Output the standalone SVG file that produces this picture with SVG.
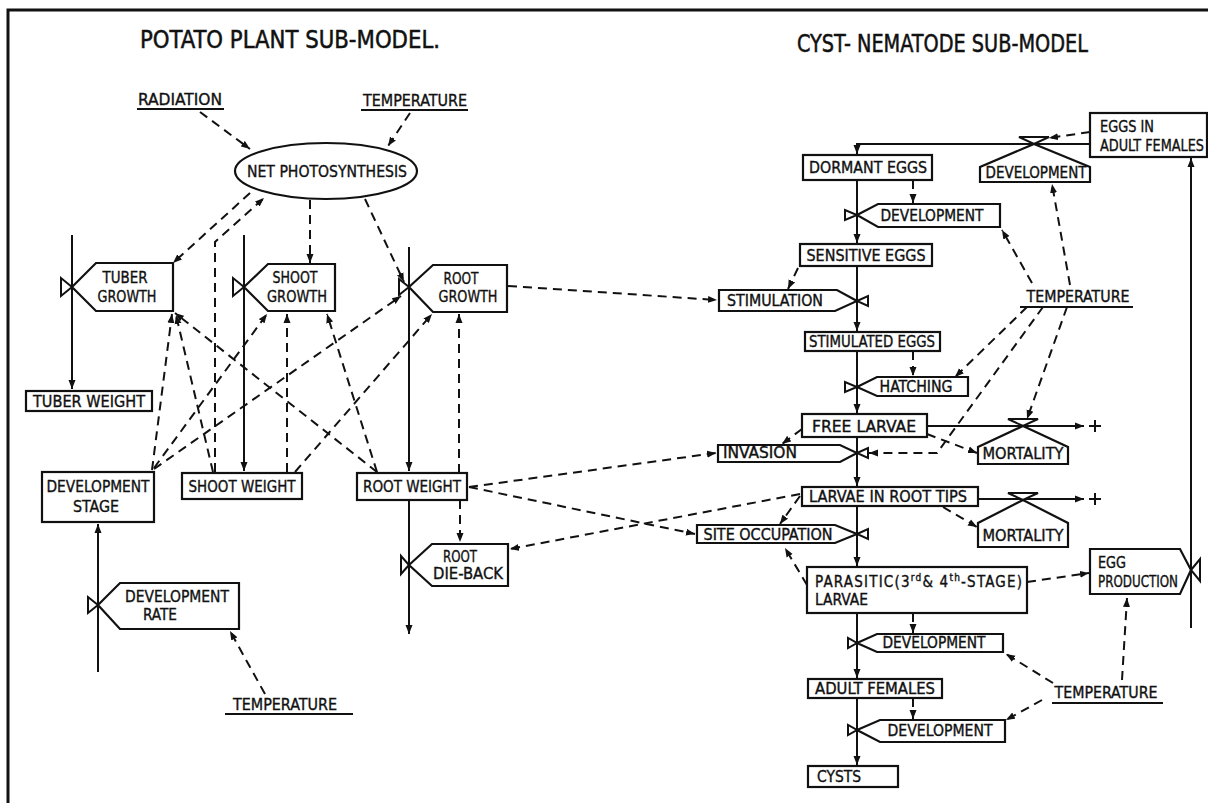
<svg xmlns="http://www.w3.org/2000/svg" width="1208" height="803" viewBox="0 0 1208 803">
  <defs>
    <marker id="ah" markerUnits="userSpaceOnUse" markerWidth="10" markerHeight="8" refX="9" refY="4" orient="auto">
      <path d="M0,0.5 L9,4 L0,7.5 z" fill="#111"/>
    </marker>
    <style>
      .frame { fill: none; stroke: #111; stroke-width: 3; }
      .box { fill: #fff; stroke: #111; stroke-width: 2.2; stroke-linejoin: miter; }
      .valve { fill: #fff; stroke: #111; stroke-width: 2; stroke-linejoin: miter; }
      .flow { fill: none; stroke: #111; stroke-width: 2; }
      .info { fill: none; stroke: #111; stroke-width: 2; stroke-dasharray: 9 6; }
      .ul { fill: none; stroke: #111; stroke-width: 2; }
      text { font-family: "DejaVu Sans Condensed", "DejaVu Sans", "Liberation Sans", sans-serif; fill: #111; stroke: #111; stroke-width: 0.35; }
      .t16 { font-size: 16px; }
      .t15 { font-size: 15px; }
      .title { font-size: 24px; stroke-width: 0.5; }
      .sup { font-size: 10px; }
    </style>
  </defs>

  <rect width="1208" height="803" fill="#fff"/>
  <path class="frame" d="M8,803 V10 H1208"/>

  <!-- headings -->
  <text class="title" x="140" y="48" textLength="300" lengthAdjust="spacingAndGlyphs">POTATO PLANT SUB-MODEL.</text>
  <text class="title" x="797" y="52" textLength="291" lengthAdjust="spacingAndGlyphs">CYST- NEMATODE SUB-MODEL</text>

  <!-- ============ flows and information links ============ -->
  <g id="connectors">
    <!-- potato: material flows -->
    <path class="flow" d="M72,235 V389" marker-end="url(#ah)"/>
    <path class="flow" d="M244,235 V471" marker-end="url(#ah)"/>
    <path class="flow" d="M409,247 V471" marker-end="url(#ah)"/>
    <path class="flow" d="M409,500 V634" marker-end="url(#ah)"/>
    <path class="flow" d="M98,672 V524" marker-end="url(#ah)"/>

    <!-- potato: information links -->
    <path class="info" d="M200,112 L250,149" marker-end="url(#ah)"/>
    <path class="info" d="M410,113 L388,146" marker-end="url(#ah)"/>
    <path class="info" d="M250,193 L173,263" marker-end="url(#ah)"/>
    <path class="info" d="M215,472 V242 L264,198" marker-end="url(#ah)"/>
    <path class="info" d="M310,200 V263" marker-end="url(#ah)"/>
    <path class="info" d="M365,199 L404,282" marker-end="url(#ah)"/>
    <path class="info" d="M152,470 L172,314" marker-end="url(#ah)"/>
    <path class="info" d="M213,472 L176,315" marker-end="url(#ah)"/>
    <path class="info" d="M377,472 L175,313" marker-end="url(#ah)"/>
    <path class="info" d="M154,468 L267,314" marker-end="url(#ah)"/>
    <path class="info" d="M377,472 L327,314" marker-end="url(#ah)"/>
    <path class="info" d="M287,472 V314" marker-end="url(#ah)"/>
    <path class="info" d="M295,472 L432,314" marker-end="url(#ah)"/>
    <path class="info" d="M154,469 L401,296" marker-end="url(#ah)"/>
    <path class="info" d="M459,473 V314" marker-end="url(#ah)"/>
    <path class="info" d="M460,500 V542" marker-end="url(#ah)"/>
    <path class="info" d="M265,694 L230,631" marker-end="url(#ah)"/>

    <!-- links between the two sub-models -->
    <path class="info" d="M508,286 L717,300" marker-end="url(#ah)"/>
    <path class="info" d="M469,487 L716,453" marker-end="url(#ah)"/>
    <path class="info" d="M469,487 L695,534" marker-end="url(#ah)"/>
    <path class="info" d="M800,494 L510,549" marker-end="url(#ah)"/>

    <!-- nematode: material flows -->
    <path class="flow" d="M1090,144 H857 V154" marker-end="url(#ah)"/>
    <path class="flow" d="M857,180 V243" marker-end="url(#ah)"/>
    <path class="flow" d="M857,266 V331" marker-end="url(#ah)"/>
    <path class="flow" d="M857,351 V413" marker-end="url(#ah)"/>
    <path class="flow" d="M857,437 V486" marker-end="url(#ah)"/>
    <path class="flow" d="M857,506 V566" marker-end="url(#ah)"/>
    <path class="flow" d="M857,613 V678" marker-end="url(#ah)"/>
    <path class="flow" d="M857,698 V765" marker-end="url(#ah)"/>
    <path class="flow" d="M927,426 H1084" marker-end="url(#ah)"/>
    <path class="flow" d="M978,499 H1084" marker-end="url(#ah)"/>
    <path class="flow" d="M1191,628 V158" marker-end="url(#ah)"/>
    <path class="flow" d="M1089,426 H1101 M1095,420 V432"/>
    <path class="flow" d="M1089,499 H1101 M1095,493 V505"/>

    <!-- nematode: information links -->
    <path class="info" d="M1090,132 L1049,138" marker-end="url(#ah)"/>
    <path class="info" d="M913,180 V203" marker-end="url(#ah)"/>
    <path class="info" d="M1070,285 L1052,184" marker-end="url(#ah)"/>
    <path class="info" d="M1032,283 L1002,230" marker-end="url(#ah)"/>
    <path class="info" d="M798,268 L788,289" marker-end="url(#ah)"/>
    <path class="info" d="M913,351 V376" marker-end="url(#ah)"/>
    <path class="info" d="M1027,307 L955,377" marker-end="url(#ah)"/>
    <path class="info" d="M1043,307 L937,453 H869" marker-end="url(#ah)"/>
    <path class="info" d="M1067,307 L1027,419" marker-end="url(#ah)"/>
    <path class="info" d="M802,429 L782,444" marker-end="url(#ah)"/>
    <path class="info" d="M927,434 L977,453" marker-end="url(#ah)"/>
    <path class="info" d="M800,496 L780,524" marker-end="url(#ah)"/>
    <path class="info" d="M943,507 L977,527" marker-end="url(#ah)"/>
    <path class="info" d="M807,585 L785,548" marker-end="url(#ah)"/>
    <path class="info" d="M1027,582 L1089,573" marker-end="url(#ah)"/>
    <path class="info" d="M913,613 V633" marker-end="url(#ah)"/>
    <path class="info" d="M1053,683 L1006,654" marker-end="url(#ah)"/>
    <path class="info" d="M913,698 V719" marker-end="url(#ah)"/>
    <path class="info" d="M1042,700 L1006,720" marker-end="url(#ah)"/>
    <path class="info" d="M1122,680 L1127,598" marker-end="url(#ah)"/>
  </g>

  <!-- ============ potato plant sub-model ============ -->
  <g id="radiation">
    <text class="t16" x="180" y="105" text-anchor="middle" textLength="84" lengthAdjust="spacingAndGlyphs">RADIATION</text>
    <path class="ul" d="M137,109 H224"/>
  </g>
  <g id="temperature-top">
    <text class="t16" x="415" y="106" text-anchor="middle" textLength="104" lengthAdjust="spacingAndGlyphs">TEMPERATURE</text>
    <path class="ul" d="M361,110 H468"/>
  </g>
  <g id="net-photosynthesis">
    <ellipse class="box" cx="326" cy="171" rx="91" ry="28"/>
    <text class="t16" x="327" y="177" text-anchor="middle" textLength="160" lengthAdjust="spacingAndGlyphs">NET PHOTOSYNTHESIS</text>
  </g>

  <g id="tuber-growth">
    <polygon class="valve" points="61,278 61,296 72,287"/>
    <polygon class="box" points="72,287 96,263 173,263 173,311 96,311"/>
    <text class="t16" x="125" y="283" text-anchor="middle" textLength="45" lengthAdjust="spacingAndGlyphs">TUBER</text>
    <text class="t16" x="127" y="302" text-anchor="middle" textLength="59" lengthAdjust="spacingAndGlyphs">GROWTH</text>
  </g>
  <g id="shoot-growth">
    <polygon class="valve" points="233,278 233,296 244,287"/>
    <polygon class="box" points="244,287 268,264 335,264 335,311 268,311"/>
    <text class="t16" x="295" y="283" text-anchor="middle" textLength="45" lengthAdjust="spacingAndGlyphs">SHOOT</text>
    <text class="t16" x="297" y="302" text-anchor="middle" textLength="60" lengthAdjust="spacingAndGlyphs">GROWTH</text>
  </g>
  <g id="root-growth">
    <polygon class="valve" points="399,279 399,295 409,287"/>
    <polygon class="box" points="409,287 433,265 507,265 507,312 433,312"/>
    <text class="t16" x="461" y="284" text-anchor="middle" textLength="35" lengthAdjust="spacingAndGlyphs">ROOT</text>
    <text class="t16" x="468" y="302" text-anchor="middle" textLength="59" lengthAdjust="spacingAndGlyphs">GROWTH</text>
  </g>

  <g id="tuber-weight">
    <rect class="box" x="26" y="391" width="126" height="20"/>
    <text class="t16" x="89" y="407" text-anchor="middle" textLength="112" lengthAdjust="spacingAndGlyphs">TUBER WEIGHT</text>
  </g>
  <g id="development-stage">
    <rect class="box" x="42" y="472" width="112" height="50"/>
    <text class="t16" x="98" y="492" text-anchor="middle" textLength="103" lengthAdjust="spacingAndGlyphs">DEVELOPMENT</text>
    <text class="t16" x="96" y="512" text-anchor="middle" textLength="46" lengthAdjust="spacingAndGlyphs">STAGE</text>
  </g>
  <g id="shoot-weight">
    <rect class="box" x="182" y="473" width="120" height="26"/>
    <text class="t16" x="242" y="492" text-anchor="middle" textLength="107" lengthAdjust="spacingAndGlyphs">SHOOT WEIGHT</text>
  </g>
  <g id="root-weight">
    <rect class="box" x="357" y="473" width="110" height="27"/>
    <text class="t16" x="412" y="492" text-anchor="middle" textLength="98" lengthAdjust="spacingAndGlyphs">ROOT WEIGHT</text>
  </g>

  <g id="root-die-back">
    <polygon class="valve" points="401,556 401,574 409,565"/>
    <polygon class="box" points="409,565 432,544 508,544 508,586 432,586"/>
    <text class="t16" x="460" y="562" text-anchor="middle" textLength="34" lengthAdjust="spacingAndGlyphs">ROOT</text>
    <text class="t16" x="468" y="579" text-anchor="middle" textLength="70" lengthAdjust="spacingAndGlyphs">DIE-BACK</text>
  </g>

  <g id="development-rate">
    <polygon class="valve" points="88,597 88,613 98,605"/>
    <polygon class="box" points="98,605 120,583 239,583 239,629 120,629"/>
    <text class="t16" x="177" y="602" text-anchor="middle" textLength="104" lengthAdjust="spacingAndGlyphs">DEVELOPMENT</text>
    <text class="t16" x="160" y="620" text-anchor="middle" textLength="34" lengthAdjust="spacingAndGlyphs">RATE</text>
  </g>
  <g id="temperature-left">
    <text class="t16" x="285" y="710" text-anchor="middle" textLength="104" lengthAdjust="spacingAndGlyphs">TEMPERATURE</text>
    <path class="ul" d="M225,714 H353"/>
  </g>

  <!-- ============ cyst-nematode sub-model ============ -->
  <g id="eggs-in-adult-females">
    <rect class="box" x="1090" y="113" width="117" height="44"/>
    <text class="t15" x="1100" y="132" textLength="54" lengthAdjust="spacingAndGlyphs">EGGS IN</text>
    <text class="t15" x="1100" y="151" textLength="104" lengthAdjust="spacingAndGlyphs">ADULT FEMALES</text>
  </g>
  <g id="development-eggs-in-females">
    <polygon class="valve" points="1019,137 1049,137 1034,144"/>
    <polygon class="box" points="1034,144 1090,167 1090,182 980,182 980,167"/>
    <text class="t15" x="1036" y="178" text-anchor="middle" textLength="101" lengthAdjust="spacingAndGlyphs">DEVELOPMENT</text>
  </g>

  <g id="dormant-eggs">
    <rect class="box" x="803" y="155" width="129" height="25"/>
    <text class="t15" x="868" y="173" text-anchor="middle" textLength="118" lengthAdjust="spacingAndGlyphs">DORMANT EGGS</text>
  </g>
  <g id="development-dormant">
    <polygon class="valve" points="845,210 845,220 857,215"/>
    <polygon class="box" points="857,215 878,204 1000,204 1000,227 878,227"/>
    <text class="t15" x="932" y="221" text-anchor="middle" textLength="103" lengthAdjust="spacingAndGlyphs">DEVELOPMENT</text>
  </g>

  <g id="sensitive-eggs">
    <rect class="box" x="800" y="244" width="132" height="22"/>
    <text class="t15" x="866" y="261" text-anchor="middle" textLength="119" lengthAdjust="spacingAndGlyphs">SENSITIVE EGGS</text>
  </g>
  <g id="stimulation">
    <polygon class="valve" points="857,301 868,296 868,306"/>
    <polygon class="box" points="719,290 837,290 857,301 835,311 719,311"/>
    <text class="t15" x="775" y="306" text-anchor="middle" textLength="96" lengthAdjust="spacingAndGlyphs">STIMULATION</text>
  </g>

  <g id="stimulated-eggs">
    <rect class="box" x="805" y="332" width="135" height="19"/>
    <text class="t15" x="872" y="347" text-anchor="middle" textLength="126" lengthAdjust="spacingAndGlyphs">STIMULATED EGGS</text>
  </g>
  <g id="hatching">
    <polygon class="valve" points="845,382 845,392 857,387"/>
    <polygon class="box" points="857,387 877,377 968,377 968,396 877,396"/>
    <text class="t15" x="916" y="392" text-anchor="middle" textLength="73" lengthAdjust="spacingAndGlyphs">HATCHING</text>
  </g>

  <g id="temperature-mid">
    <text class="t15" x="1078" y="302" text-anchor="middle" textLength="103" lengthAdjust="spacingAndGlyphs">TEMPERATURE</text>
    <path class="ul" d="M1020,307 H1133"/>
  </g>

  <g id="free-larvae">
    <rect class="box" x="802" y="414" width="125" height="23"/>
    <text class="t15" x="864" y="432" text-anchor="middle" textLength="104" lengthAdjust="spacingAndGlyphs">FREE  LARVAE</text>
  </g>
  <g id="mortality-free-larvae">
    <polygon class="valve" points="1008,419 1038,419 1023,426"/>
    <polygon class="box" points="1023,426 1068,447 1068,464 978,464 978,447"/>
    <text class="t15" x="1023" y="459" text-anchor="middle" textLength="81" lengthAdjust="spacingAndGlyphs">MORTALITY</text>
  </g>
  <g id="invasion">
    <polygon class="valve" points="857,453 868,448 868,458"/>
    <polygon class="box" points="718,445 840,445 857,453 840,462 718,462"/>
    <text class="t15" x="760" y="458" text-anchor="middle" textLength="74" lengthAdjust="spacingAndGlyphs">INVASION</text>
  </g>

  <g id="larvae-in-root-tips">
    <rect class="box" x="802" y="487" width="176" height="19"/>
    <text class="t15" x="888" y="502" text-anchor="middle" textLength="158" lengthAdjust="spacingAndGlyphs">LARVAE IN ROOT  TIPS</text>
  </g>
  <g id="mortality-root-tips">
    <polygon class="valve" points="1008,493 1038,493 1023,500"/>
    <polygon class="box" points="1023,500 1068,523 1068,547 978,547 978,523"/>
    <text class="t15" x="1023" y="541" text-anchor="middle" textLength="81" lengthAdjust="spacingAndGlyphs">MORTALITY</text>
  </g>
  <g id="site-occupation">
    <polygon class="valve" points="857,534 868,529 868,539"/>
    <polygon class="box" points="697,525 835,525 857,534 835,543 697,543"/>
    <text class="t15" x="768" y="540" text-anchor="middle" textLength="129" lengthAdjust="spacingAndGlyphs">SITE OCCUPATION</text>
  </g>

  <g id="parasitic-larvae">
    <rect class="box" x="807" y="567" width="220" height="46"/>
    <text class="t15" x="815" y="587" textLength="207" lengthAdjust="spacing">PARASITIC(3<tspan class="sup" dy="-6">rd</tspan><tspan dy="6">&amp; 4</tspan><tspan class="sup" dy="-6">th</tspan><tspan dy="6">-STAGE)</tspan></text>
    <text class="t15" x="815" y="605" textLength="53" lengthAdjust="spacingAndGlyphs">LARVAE</text>
  </g>
  <g id="egg-production">
    <polygon class="valve" points="1191,570 1200,559 1200,581"/>
    <polygon class="box" points="1090,549 1180,549 1191,570 1180,594 1090,594"/>
    <text class="t15" x="1098" y="568" textLength="28" lengthAdjust="spacingAndGlyphs">EGG</text>
    <text class="t15" x="1098" y="587" textLength="80" lengthAdjust="spacingAndGlyphs">PRODUCTION</text>
  </g>

  <g id="development-parasitic">
    <polygon class="valve" points="848,638 848,648 857,643"/>
    <polygon class="box" points="857,643 877,634 1003,634 1003,652 877,652"/>
    <text class="t15" x="934" y="648" text-anchor="middle" textLength="103" lengthAdjust="spacingAndGlyphs">DEVELOPMENT</text>
  </g>
  <g id="adult-females">
    <rect class="box" x="808" y="679" width="134" height="19"/>
    <text class="t15" x="875" y="694" text-anchor="middle" textLength="120" lengthAdjust="spacingAndGlyphs">ADULT FEMALES</text>
  </g>
  <g id="development-adult">
    <polygon class="valve" points="848,725 848,735 857,730"/>
    <polygon class="box" points="857,730 880,720 1005,720 1005,742 880,742"/>
    <text class="t15" x="940" y="736" text-anchor="middle" textLength="105" lengthAdjust="spacingAndGlyphs">DEVELOPMENT</text>
  </g>
  <g id="temperature-bottom">
    <text class="t15" x="1106" y="698" text-anchor="middle" textLength="103" lengthAdjust="spacingAndGlyphs">TEMPERATURE</text>
    <path class="ul" d="M1052,703 H1163"/>
  </g>
  <g id="cysts">
    <rect class="box" x="808" y="766" width="90" height="21"/>
    <text class="t15" x="817" y="782" textLength="44" lengthAdjust="spacingAndGlyphs">CYSTS</text>
  </g>
</svg>
